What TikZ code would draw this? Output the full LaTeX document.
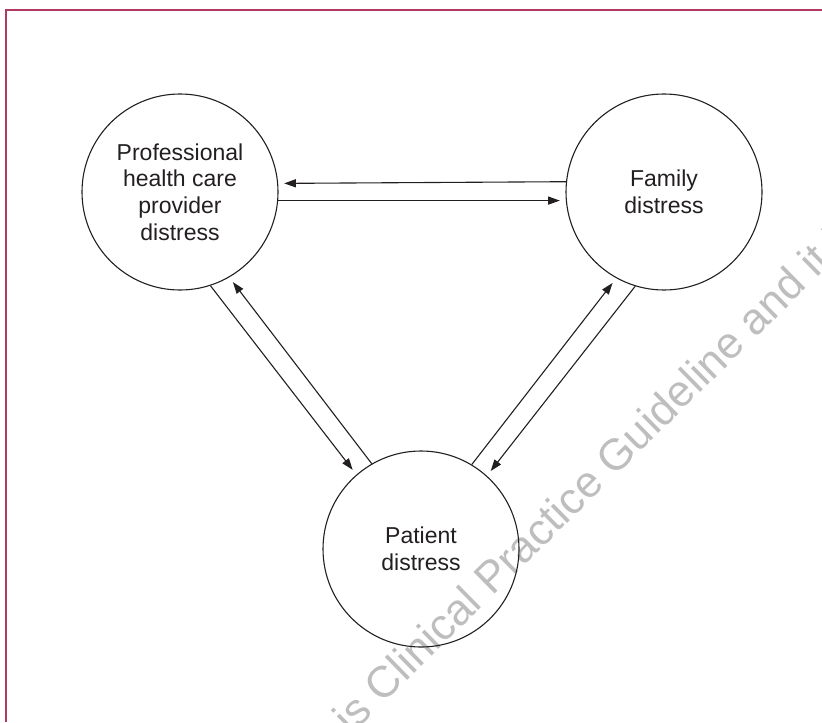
\documentclass[tikz,border=0pt]{standalone}
\usepackage{fontspec}
\setmainfont{Liberation Sans}
\usepackage{tikz}
\usetikzlibrary{arrows.meta}
\definecolor{ink}{HTML}{231F20}
\definecolor{rim}{HTML}{B03A62}
\definecolor{faint}{HTML}{BEBEBE}
\tikzset{
  bubble/.style={draw=ink,circle,line width=.55pt,minimum size=98pt,inner sep=0pt,
    align=center,text=ink,font=\fontsize{11.5}{13.3}\selectfont},
  link/.style={-{Triangle[length=5.8pt,width=4pt]},draw=ink,line width=.55pt,shorten >=3pt},
  rimline/.style={draw=rim,line width=.6pt},
  wmark/.style={text=faint,font=\fontsize{22}{22}\selectfont,rotate=44.5,
    anchor=base west,inner sep=0pt}
}
\begin{document}
\begin{tikzpicture}[x=.5pt,y=-.5pt]
  \useasboundingbox (0,0) rectangle (822,722);
  \begin{scope}
    \clip (0,0) rectangle (822,722);
    \node[wmark] (wm) at (351,736) {is Clinical Practice Guideline and it is};
  \end{scope}
  \draw[rimline] (6,722) |- (822,10);
  % the three sources of distress
  \node[bubble] (prof) at (180,192) {Professional\\health care\\provider\\distress};
  \node[bubble] (fam) at (664,192) {Family\\distress};
  \node[bubble] (pat) at (421,549) {Patient\\distress};
  % two-way links
  \draw[link] (fam.174.7) -- (prof.5.3);
  \draw[link] (prof.-5.3) -- (fam.185.3);
  \draw[link] (prof.-72) -- (pat.131);
  \draw[link] (pat.120) -- (prof.-60);
  \draw[link] (pat.59) -- (fam.-119);
  \draw[link] (fam.-107) -- (pat.48);
\end{tikzpicture}
\end{document}
